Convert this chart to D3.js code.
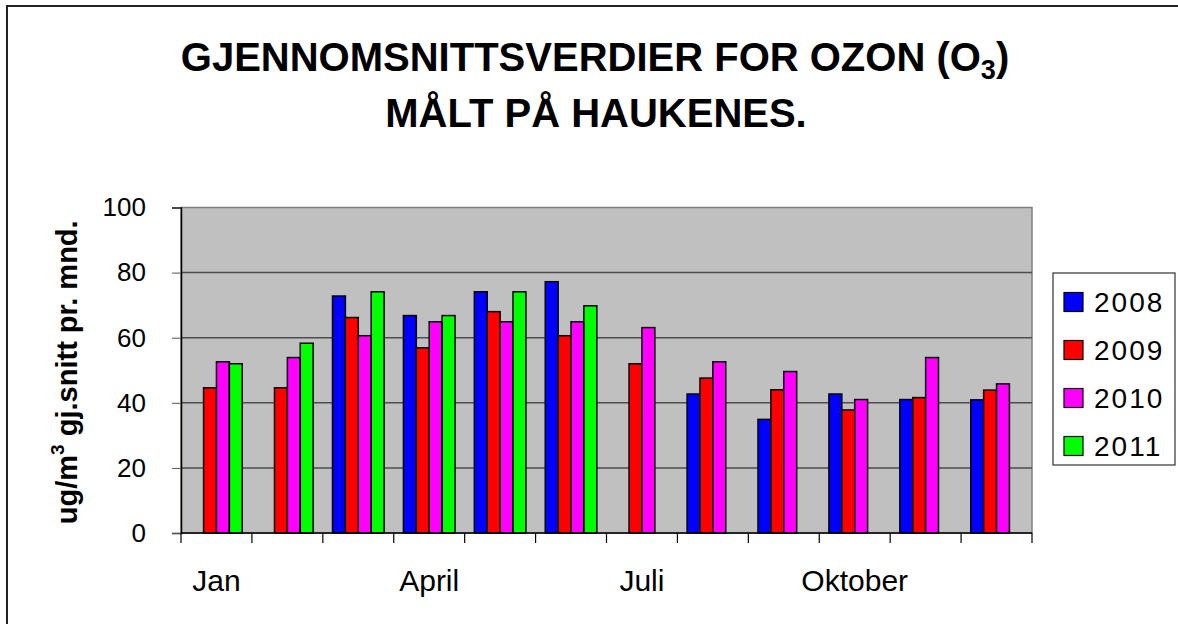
<!DOCTYPE html>
<html lang="no">
	<head>
		<meta charset="utf-8">
		<title>Ozon Haukenes</title>
		<script type="text/javascript" src="https://cdn.jsdelivr.net/npm/d3@7"></script>
		<style type="text/css">
			body { margin: 0; background: #fff; overflow: hidden; }
			svg { display: block; }
			text { font-family: "Liberation Sans", Arial, sans-serif; }
		</style>
	</head>
	<body>
		<script type="text/javascript">

			//Months (categories) and which ones get a label
			var months = ["Jan", "Feb", "Mars", "April", "Mai", "Juni", "Juli", "August", "September", "Oktober", "November", "Desember"];
			var shownMonths = ["Jan", "April", "Juli", "Oktober"];

			//Series, one array per year (null = no bar)
			var years = ["2008", "2009", "2010", "2011"];
			var v2008 = [null, null, 72.8, 66.8, 74.1, 77.2, null, 42.7, 34.9, 42.7, 41.0, 40.9];
			var v2009 = [44.6, 44.6, 66.2, 56.9, 68.0, 60.6, 52.0, 47.6, 44.0, 37.8, 41.6, 43.9];
			var v2010 = [52.6, 53.9, 60.6, 64.9, 64.9, 64.9, 63.1, 52.6, 49.6, 41.0, 53.9, 45.8];
			var v2011 = [52.0, 58.3, 74.1, 66.8, 74.1, 69.8, null, null, null, null, null, null];
			var colors = ["#0000ff", "#ff0000", "#ff00ff", "#00ff00"];

			var yTicks = [0, 20, 40, 60, 80, 100];

			var w = 1178;
			var h = 624;
			var plot = {left: 181, right: 1032, top: 207.5, bottom: 533};

			var seriesValues = [v2008, v2009, v2010, v2011];

			var svg = d3.select("body")
						.append("svg")
						.attr("width", w)
						.attr("height", h);

			//Outer chart border: only top and left edges are inside the picture
			svg.append("path")
				.attr("d", "M7," + h + "V6H" + w)
				.attr("fill", "none")
				.attr("stroke", "#222")
				.attr("stroke-width", 2);

			//Scales
			var x0 = d3.scaleBand()
						.domain(months)
						.range([plot.left, plot.right])
						.padding(0);

			var x1 = d3.scaleBand()
						.domain(years)
						.range([0, x0.bandwidth()])
						.paddingInner(0)
						.paddingOuter(0.75);

			var yScale = d3.scaleLinear()
						.domain([0, 100])
						.range([plot.bottom, plot.top]);

			var color = d3.scaleOrdinal().domain(years).range(colors);

			//Plot background
			svg.append("rect")
				.attr("x", plot.left)
				.attr("y", plot.top)
				.attr("width", plot.right - plot.left)
				.attr("height", plot.bottom - plot.top)
				.attr("fill", "#c0c0c0")
				.attr("stroke", "#808080")
				.attr("stroke-width", 1.5);

			//Gridlines
			svg.append("g")
				.selectAll("line")
				.data(yTicks.filter(function(d) { return d > 0 && d < 100; }))
				.enter()
				.append("line")
				.attr("x1", plot.left)
				.attr("x2", plot.right)
				.attr("y1", function(d) { return yScale(d); })
				.attr("y2", function(d) { return yScale(d); })
				.attr("stroke", "#4d4d4d")
				.attr("stroke-width", 1.5);

			//Bars
			var barData = [];
			years.forEach(function(yr, i) {
				months.forEach(function(m, j) {
					if (seriesValues[i][j] != null) barData.push({year: yr, month: m, value: seriesValues[i][j]});
				});
			});

			svg.append("g")
				.selectAll("rect")
				.data(barData)
				.enter()
				.append("rect")
				.attr("x", function(d) { return x0(d.month) + x1(d.year); })
				.attr("y", function(d) { return yScale(d.value); })
				.attr("width", x1.bandwidth())
				.attr("height", function(d) { return yScale(0) - yScale(d.value); })
				.attr("fill", function(d) { return color(d.year); })
				.attr("stroke", "#000")
				.attr("stroke-width", 1.5);

			//Y axis
			var yAxis = d3.axisLeft(yScale)
						.tickValues(yTicks)
						.tickSize(9)
						.tickPadding(26);

			var gy = svg.append("g")
				.attr("transform", "translate(" + plot.left + ",0)")
				.call(yAxis);
			gy.select(".domain").attr("stroke", "#000").attr("stroke-width", 1.5);
			gy.selectAll(".tick line").attr("stroke", "#555");
			gy.selectAll(".tick text")
				.attr("font-size", 26)
				.attr("font-family", "Liberation Sans, Arial, sans-serif")
				.attr("fill", "#000");

			//X axis: ticks at category boundaries, labels on selected months
			var bounds = months.map(function(m) { return x0(m); }).concat([plot.right]);
			var gx = svg.append("g");
			gx.append("line")
				.attr("x1", plot.left)
				.attr("x2", plot.right)
				.attr("y1", plot.bottom)
				.attr("y2", plot.bottom)
				.attr("stroke", "#000")
				.attr("stroke-width", 1.5);
			gx.selectAll("line.tk")
				.data(bounds)
				.enter()
				.append("line")
				.attr("class", "tk")
				.attr("x1", function(d) { return d; })
				.attr("x2", function(d) { return d; })
				.attr("y1", plot.bottom)
				.attr("y2", plot.bottom + 10)
				.attr("stroke", "#000")
				.attr("stroke-width", 1.2);
			gx.selectAll("text")
				.data(shownMonths)
				.enter()
				.append("text")
				.attr("x", function(d) { return x0(d) + x0.bandwidth() / 2; })
				.attr("y", 591)
				.attr("text-anchor", "middle")
				.attr("font-size", 30)
				.text(function(d) { return d; });

			//Y axis title
			var yt = svg.append("text")
				.attr("transform", "translate(77," + ((plot.top + plot.bottom) / 2 + 2) + ") rotate(-90)")
				.attr("text-anchor", "middle")
				.attr("font-size", 29)
				.attr("font-weight", "bold");
			yt.append("tspan").text("ug/m");
			yt.append("tspan").attr("font-size", 19).attr("dy", -13).text("3");
			yt.append("tspan").attr("dy", 13).text(" gj.snitt pr. mnd.");

			//Title
			var t1 = svg.append("text")
				.attr("x", 595)
				.attr("y", 71)
				.attr("text-anchor", "middle")
				.attr("font-size", 40)
				.attr("font-weight", "bold");
			t1.append("tspan").text("GJENNOMSNITTSVERDIER FOR OZON (O");
			t1.append("tspan").attr("font-size", 27).attr("dy", 8).text("3");
			t1.append("tspan").attr("dy", -8).text(")");

			svg.append("text")
				.attr("x", 596)
				.attr("y", 127)
				.attr("text-anchor", "middle")
				.attr("font-size", 40)
				.attr("font-weight", "bold")
				.text("MÅLT PÅ HAUKENES.");

			//Legend
			var lg = svg.append("g");
			lg.append("rect")
				.attr("x", 1053)
				.attr("y", 273)
				.attr("width", 122)
				.attr("height", 192)
				.attr("fill", "#fff")
				.attr("stroke", "#333")
				.attr("stroke-width", 1.2);

			var items = lg.selectAll("g.item")
				.data(years)
				.enter()
				.append("g")
				.attr("class", "item")
				.attr("transform", function(d, i) { return "translate(1064," + (301.5 + i * 48) + ")"; });
			items.append("rect")
				.attr("x", 0)
				.attr("y", -9)
				.attr("width", 19)
				.attr("height", 19)
				.attr("fill", function(d) { return color(d); })
				.attr("stroke", "#000")
				.attr("stroke-width", 1.2);
			items.append("text")
				.attr("x", 30)
				.attr("y", 10)
				.attr("font-size", 28)
				.attr("letter-spacing", 2)
				.text(function(d) { return d; });

		</script>
	</body>
</html>
